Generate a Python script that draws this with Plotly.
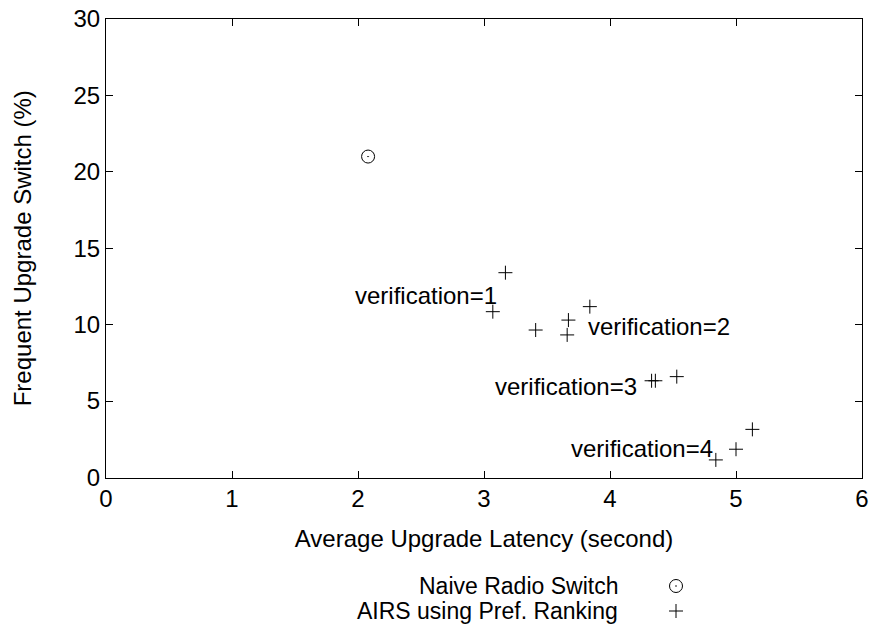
import plotly.graph_objects as go

# Data
naive_x = [2.08]
naive_y = [21.0]

airs_x = [3.17, 3.07, 3.41, 3.67, 3.66, 3.84, 4.33, 4.36, 4.53, 5.13, 5.00, 4.84]
airs_y = [13.4, 10.85, 9.65, 10.3, 9.33, 11.18, 6.33, 6.33, 6.6, 3.15, 1.85, 1.15]

label_text = ["verification=1", "verification=2", "verification=3", "verification=4"]
label_x = [3.12, 3.81, 4.23, 4.83]
label_y = [11.9, 9.9, 5.94, 1.93]
label_anchor = ["right", "left", "right", "right"]

legend_names = ["Naive Radio Switch", "AIRS using Pref. Ranking"]

W, H = 876, 629
L, R, T, B = 106, 862, 19, 477.5
FONT = "Liberation Sans, Arial, Helvetica, sans-serif"
FS = 24

fig = go.Figure()
fig.add_trace(go.Scatter(
    x=naive_x, y=naive_y, mode="markers", name=legend_names[0],
    marker=dict(symbol="circle-open-dot", size=13, color="black", line=dict(width=1)),
    showlegend=False))
fig.add_trace(go.Scatter(
    x=airs_x, y=airs_y, mode="markers", name=legend_names[1],
    marker=dict(symbol="cross-thin-open", size=10, color="black", line=dict(width=1, color="black")),
    showlegend=False))

for t, x, y, a in zip(label_text, label_x, label_y, label_anchor):
    fig.add_annotation(x=x, y=y, text=t, showarrow=False, xanchor=a, yanchor="middle",
                       font=dict(size=FS, color="black", family=FONT))

# Legend (gnuplot style: text then symbol), drawn on an overlay pixel axis
leg_sym_x = 676
leg_y = [586, 611]
fig.add_trace(go.Scatter(
    x=[leg_sym_x], y=[leg_y[0]], xaxis="x2", yaxis="y2", mode="markers",
    marker=dict(symbol="circle-open-dot", size=13, color="black", line=dict(width=1)),
    showlegend=False, hoverinfo="skip"))
fig.add_trace(go.Scatter(
    x=[leg_sym_x], y=[leg_y[1]], xaxis="x2", yaxis="y2", mode="markers",
    marker=dict(symbol="cross-thin-open", size=10, color="black", line=dict(width=1, color="black")),
    showlegend=False, hoverinfo="skip"))
for name, y in zip(legend_names, leg_y):
    fig.add_annotation(x=620, y=y, xref="x2", yref="y2", text=name, showarrow=False,
                       xanchor="right", yanchor="middle",
                       font=dict(size=23, color="black", family=FONT))

axis_common = dict(showgrid=False, zeroline=False, showline=True, linecolor="black", linewidth=1,
                   mirror="ticks", ticks="inside", ticklen=7, tickcolor="black", automargin=False,
                   tickfont=dict(size=FS, color="black", family=FONT))

fig.update_layout(
    width=W, height=H,
    margin=dict(l=0, r=0, t=0, b=0),
    paper_bgcolor="white", plot_bgcolor="rgba(0,0,0,0)",
    xaxis=dict(range=[0, 6], dtick=1, domain=[L / W, R / W], anchor="y",
               title=dict(text="Average Upgrade Latency (second)", standoff=18,
                          font=dict(size=FS, color="black", family=FONT)),
               **axis_common),
    yaxis=dict(range=[0, 30], dtick=5, domain=[(H - B) / H, (H - T) / H], anchor="x",
               title=dict(text="Frequent Upgrade Switch (%)", standoff=35,
                          font=dict(size=FS, color="black", family=FONT)),
               **axis_common),
    xaxis2=dict(range=[0, W], domain=[0, 1], visible=False, anchor="y2"),
    yaxis2=dict(range=[H, 0], domain=[0, 1], visible=False, anchor="x2"),
    showlegend=False,
)

fig.write_html("out.html", config={"displayModeBar": False},
               post_script="document.body.style.margin='0';document.body.style.overflow='hidden';")
